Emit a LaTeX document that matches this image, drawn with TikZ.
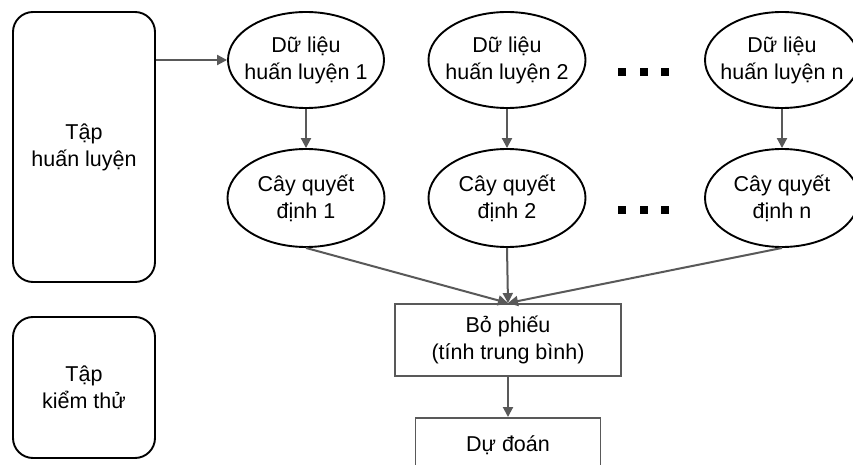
\documentclass[tikz,border=0pt]{standalone}
\usepackage{fontspec}
\setmainfont{Liberation Sans}
\usetikzlibrary{arrows.meta,shapes.geometric}
\definecolor{linegray}{HTML}{595959}
\tikzset{
  every node/.style={font=\fontsize{21.5}{27}\selectfont, text=black, align=center},
  setbox/.style={draw=black, line width=1.9pt, rounded corners=20pt, inner sep=0pt},
  oval/.style={ellipse, draw=black, line width=1.9pt, inner xsep=-10pt, inner ysep=-8pt},
  stepbox/.style={rectangle, draw=linegray, line width=1.9pt, inner sep=0pt},
  flow/.style={draw=linegray, line width=2pt, -{Triangle[length=10pt,width=10pt]}},
  dot/.style={rectangle, fill=black, minimum size=8pt, inner sep=0pt}
}
\begin{document}
\begin{tikzpicture}[x=1pt, y=-1pt]
\useasboundingbox (0,0) rectangle (853,465);
\clip (0,0) rectangle (853,465);
\fill[white] (0,0) rectangle (853,465);

% left-hand data sets
\node[setbox, minimum width=142pt, minimum height=270pt] (train) at (84,147) {Tập\\huấn luyện};
\node[setbox, minimum width=142pt, minimum height=141pt] (test) at (84,387.5) {Tập\\kiểm thử};

% bootstrap samples
\node[oval, minimum width=156pt, minimum height=96pt] (d1) at (306,60) {Dữ liệu\\huấn luyện 1};
\node[oval, minimum width=157pt, minimum height=96pt] (d2) at (507,60) {Dữ liệu\\huấn luyện 2};
\node[oval, minimum width=154pt, minimum height=96pt] (dn) at (782,60) {Dữ liệu\\huấn luyện n};

% decision trees
\node[oval, minimum width=157pt, minimum height=98pt] (t1) at (306,198) {Cây quyết\\định 1};
\node[oval, minimum width=157pt, minimum height=98pt] (t2) at (507,198) {Cây quyết\\định 2};
\node[oval, minimum width=154pt, minimum height=98pt] (tn) at (782,198) {Cây quyết\\định n};

% ellipsis marks
\node[dot] (a1) at (621.5,72) {};
\node[dot] (a2) at (643.5,72) {};
\node[dot] (a3) at (664.5,72) {};
\node[dot] (b1) at (621.5,210) {};
\node[dot] (b2) at (643.5,210) {};
\node[dot] (b3) at (664.5,210) {};

% aggregation and output
\node[stepbox, minimum width=226pt, minimum height=72pt] (vote) at (508,340) {Bỏ phiếu\\(tính trung bình)};
\node[stepbox, minimum width=185pt, minimum height=54pt, anchor=north] (pred) at (508,417) {Dự đoán};

% connectors
\draw[flow] (train.east |- d1) -- (d1.west);
\draw[flow] (d1) -- (t1);
\draw[flow] (d2) -- (t2);
\draw[flow] (dn) -- (tn);
\draw[flow] (t1.south) -- (vote.north);
\draw[flow] (t2.south) -- (vote.north);
\draw[flow] (tn.south) -- (vote.north);
\draw[flow] (vote) -- (pred);
\end{tikzpicture}
\end{document}
